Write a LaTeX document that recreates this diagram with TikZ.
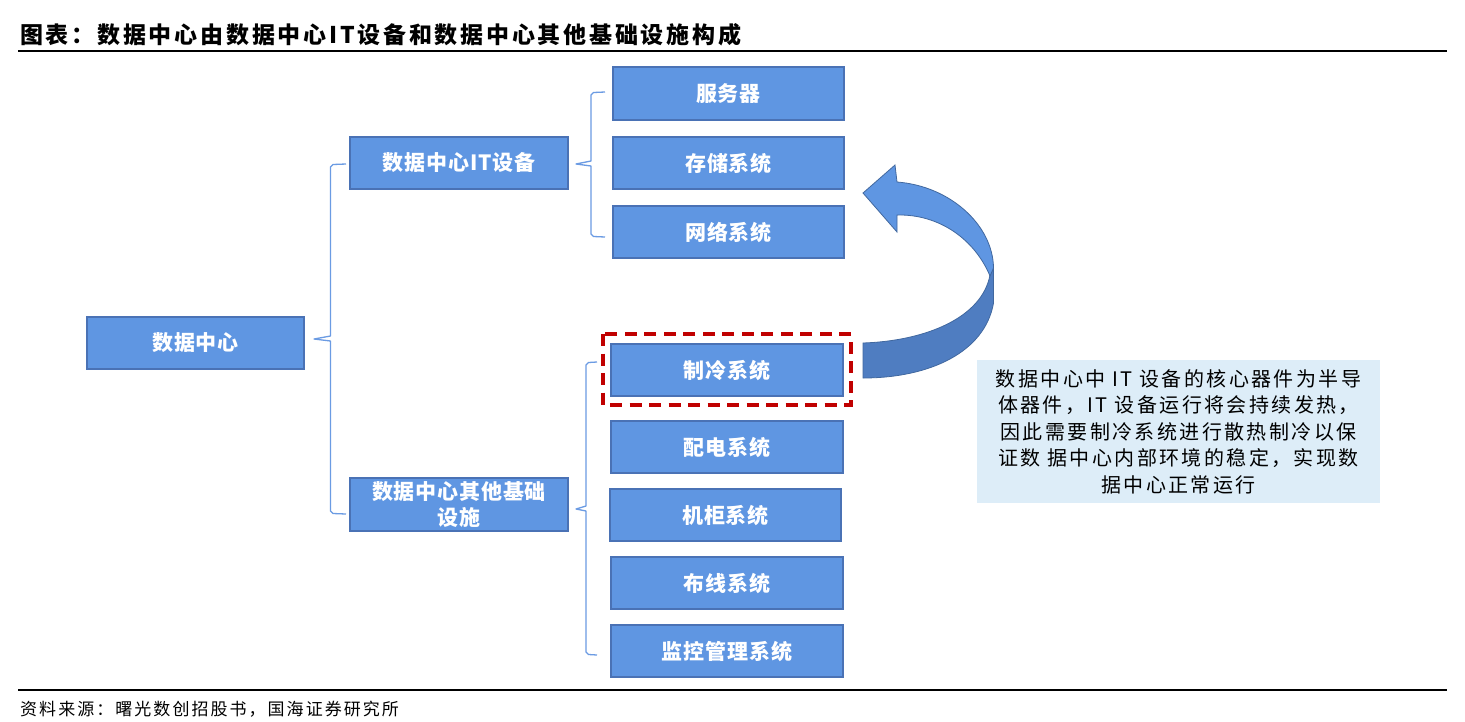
\documentclass[tikz,border=0pt]{standalone}
\usepackage{fontspec}
\newfontfamily\cjk{Noto Sans CJK SC}
\newfontfamily\cjkbox[LetterSpace=4]{Noto Sans CJK SC}
\newfontfamily\cjktitle[LetterSpace=12]{Noto Sans CJK SC}
\newfontfamily\cjknote[LetterSpace=12]{Noto Sans CJK SC}
\newfontfamily\cjkfoot[LetterSpace=12]{Noto Sans CJK SC}
\definecolor{boxblue}{HTML}{5F96E2}
\definecolor{boxedge}{HTML}{4A72B5}
\definecolor{bracecol}{HTML}{6B9BE3}
\definecolor{arrowlight}{HTML}{5F96E2}
\definecolor{arrowdark}{HTML}{4F7DC1}
\definecolor{arrowedge}{HTML}{41689F}
\definecolor{noteblue}{HTML}{DDEDF8}
\definecolor{redline}{HTML}{C00000}
\tikzset{
  sysbox/.style={draw=boxedge, fill=boxblue, line width=1.6pt, text=white,
    font=\cjkbox\bfseries\fontsize{21}{25}\selectfont, inner sep=0pt, align=center},
  bracepath/.style={draw=bracecol, line width=1.3pt, line join=round},
}
\begin{document}
\begin{tikzpicture}[x=1pt,y=-1pt]
\useasboundingbox (0,0) rectangle (1465,721);
\fill[white] (0,0) rectangle (1465,721);

% title
\node[anchor=west, inner sep=0pt, font=\cjktitle\bfseries\fontsize{23}{26}\selectfont] (title) at (20,35) {图表：数据中心由数据中心IT设备和数据中心其他基础设施构成};
\coordinate (tl1) at (18,51);
\coordinate (tl2) at (1447,51);
\draw[line width=2.4pt] (tl1) -- (tl2);

% boxes
\node[sysbox, minimum width=217pt, minimum height=52pt] (root) at (195.5,343) {数据中心};
\node[sysbox, minimum width=218pt, minimum height=52pt] (it) at (459,163) {数据中心IT设备};
\node[sysbox, minimum width=218pt, minimum height=53pt, font=\cjkbox\bfseries\fontsize{21}{27}\selectfont] (infra) at (459,504.5) {数据中心其他基础\\设施};

\node[sysbox, minimum width=231pt, minimum height=53pt] (srv) at (728.5,93.5) {服务器};
\node[sysbox, minimum width=231pt, minimum height=52pt] (sto) at (728.5,163) {存储系统};
\node[sysbox, minimum width=231pt, minimum height=52pt] (net) at (728.5,232) {网络系统};

\node[sysbox, minimum width=232pt, minimum height=52pt] (cool) at (727,370) {制冷系统};
\node[sysbox, minimum width=232pt, minimum height=52pt] (pwr) at (727,447) {配电系统};
\node[sysbox, minimum width=231pt, minimum height=52pt] (rack) at (725.5,515) {机柜系统};
\node[sysbox, minimum width=232pt, minimum height=52pt] (cab) at (727,583) {布线系统};
\node[sysbox, minimum width=232pt, minimum height=52pt] (mon) at (727,651) {监控管理系统};

% red dashed highlight
\draw[redline, line width=3.6pt, dash pattern=on 12pt off 7.5pt] (603,334) rectangle (851,405);

% braces
\draw[bracepath] (346,164) -- (333,164.5) -- (330.5,167) -- (330.5,336) -- (314,339) -- (330.5,341) -- (330.5,511) -- (333,513.5) -- (346,514);
\draw[bracepath] (605,92) -- (593.5,92.5) -- (591,95) -- (591,161) -- (576,164) -- (591,166) -- (591,234) -- (593.5,236.5) -- (605,237);
\draw[bracepath] (597,362) -- (588.5,362.5) -- (586,365) -- (586,506) -- (576,509) -- (586,511) -- (586,652) -- (588.5,654.5) -- (597,655);

% curved arrow
\filldraw[fill=arrowdark, draw=arrowedge, line width=0.8pt]
  (863,343) .. controls (925,341) and (982,318) .. (990,275)
  -- (993.5,268) -- (993.5,303)
  .. controls (985,352) and (930,378) .. (863,378) -- cycle;
\filldraw[fill=arrowlight, draw=arrowedge, line width=0.8pt]
  (863,193) -- (895,165) -- (897,182)
  .. controls (950,186) and (993,225) .. (993.5,268)
  -- (990,276)
  .. controls (975,240) and (940,214) .. (897,215)
  -- (897,232) -- cycle;

% note box
\node[fill=noteblue, minimum width=403pt, minimum height=143pt, inner sep=0pt] (note) at (1178.5,431.5) {};
\node[font=\cjknote\fontsize{20}{26.5}\selectfont, align=center, inner sep=0pt] (notetext) at (note.center) {数据中心中 IT 设备的核心器件为半导\\体器件，IT 设备运行将会持续发热，\\因此需要制冷系统进行散热制冷以保\\证数 据中心内部环境的稳定，实现数\\据中心正常运行};

% bottom rule and source
\coordinate (bl1) at (18,690);
\coordinate (bl2) at (1447,690);
\draw[line width=2pt] (bl1) -- (bl2);
\node[anchor=west, inner sep=0pt, font=\cjkfoot\fontsize{17}{20}\selectfont] (src) at (20,709) {资料来源：曙光数创招股书，国海证券研究所};
\end{tikzpicture}
\end{document}
